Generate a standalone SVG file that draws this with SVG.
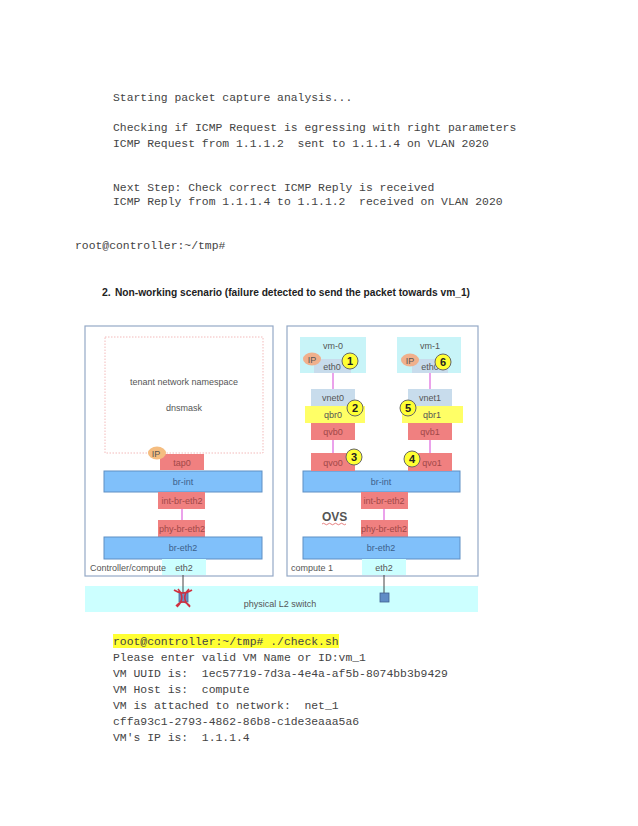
<svg xmlns="http://www.w3.org/2000/svg" width="638" height="826" viewBox="0 0 638 826">
<defs>
<style>
.term{font-family:"Liberation Mono","Courier New",monospace;font-size:11.4px;fill:#444;white-space:pre}
.head{font-family:"Liberation Sans",Arial,sans-serif;font-size:10.5px;font-weight:bold;fill:#222}
.lbl{font-family:"Liberation Sans",Arial,sans-serif;font-size:9px;fill:#555;text-anchor:middle}
.lbll{font-family:"Liberation Sans",Arial,sans-serif;font-size:9px;fill:#555}
.red{fill:#f08080}
.redt{font-family:"Liberation Sans",Arial,sans-serif;font-size:9px;fill:#a04848;text-anchor:middle}
.bridge{fill:#80c0fa;stroke:#5f8fc4;stroke-width:1}
.bt{font-family:"Liberation Sans",Arial,sans-serif;font-size:9px;fill:#3d5f8a;text-anchor:middle}
.host{fill:#fff;stroke:#94a9c6;stroke-width:1.2}
.vm{fill:#c8f4f8}
.nic{fill:#c8dcec}
.qbr{fill:#ffff66}
.num{fill:#ffff33;stroke:#666;stroke-width:1}
.numt{font-family:"Liberation Sans",Arial,sans-serif;font-size:11px;font-weight:bold;fill:#222;text-anchor:middle}
.pink{stroke:#e070e0;stroke-width:1.3;fill:none}
.wire{stroke:#444;stroke-width:1;fill:none}
.cyan{fill:#ccffff}
</style>
</defs>
<rect width="638" height="826" fill="#fff"/>

<g id="terminal-top">
<text class="term" x="113" y="101">Starting packet capture analysis...</text>
<text class="term" x="113" y="131">Checking if ICMP Request is egressing with right parameters</text>
<text class="term" x="113" y="147" xml:space="preserve">ICMP Request from 1.1.1.2  sent to 1.1.1.4 on VLAN 2020</text>
<text class="term" x="113" y="191">Next Step: Check correct ICMP Reply is received</text>
<text class="term" x="113" y="205" xml:space="preserve">ICMP Reply from 1.1.1.4 to 1.1.1.2  received on VLAN 2020</text>
<text class="term" x="75" y="249">root@controller:~/tmp#</text>
</g>

<g id="heading">
<text class="head" x="102" y="296">2.</text>
<text class="head" x="115" y="296" textLength="355" lengthAdjust="spacingAndGlyphs">Non-working scenario (failure detected to send the packet towards vm_1)</text>
</g>

<g id="switch">
<rect class="cyan" x="85" y="586" width="393" height="26"/>
<text class="lbl" x="280" y="607">physical L2 switch</text>
</g>

<g id="controller">
<rect class="host" x="85" y="326" width="188" height="250"/>
<rect x="105" y="337" width="158" height="116" fill="none" stroke="#f0a8a8" stroke-width="0.8" stroke-dasharray="1.5,1.5"/>
<text class="lbl" x="184" y="385">tenant network namespace</text>
<text class="lbl" x="184" y="411">dnsmask</text>
<rect class="red" x="160" y="454" width="44" height="16"/>
<text class="redt" x="182" y="466">tap0</text>
<ellipse cx="157" cy="453" rx="9" ry="6.5" fill="#f5bd80"/>
<text class="lbl" x="156" y="457">IP</text>
<rect class="bridge" x="104" y="471" width="158" height="21"/>
<text class="bt" x="183" y="485">br-int</text>
<rect class="red" x="158" y="492" width="47" height="17"/>
<text class="redt" x="182" y="504">int-br-eth2</text>
<rect class="red" x="158" y="520" width="47" height="17"/>
<text class="redt" x="182" y="532">phy-br-eth2</text>
<rect class="bridge" x="104" y="537" width="158" height="22"/>
<text class="bt" x="183" y="551">br-eth2</text>
<rect class="cyan" x="162" y="559" width="44" height="16"/>
<text class="lbl" x="184" y="571">eth2</text>
<text class="lbll" x="90" y="571">Controller/compute</text>
</g>

<g id="compute1">
<rect class="host" x="287" y="326" width="191" height="250"/>
<rect class="bridge" x="303" y="471" width="157" height="21"/>
<text class="bt" x="381" y="485">br-int</text>
<rect class="red" x="361" y="492" width="47" height="17"/>
<text class="redt" x="384" y="504">int-br-eth2</text>
<rect class="red" x="361" y="520" width="47" height="17"/>
<text class="redt" x="384" y="532">phy-br-eth2</text>
<rect class="bridge" x="303" y="537" width="157" height="22"/>
<text class="bt" x="381" y="551">br-eth2</text>
<text x="322" y="521" font-family="Liberation Sans,Arial,sans-serif" font-size="12" font-weight="bold" fill="#555">OVS</text>
<path d="M322 524 q1.5 -1.5 3 0 t3 0 t3 0 t3 0 t3 0 t3 0 t3 0 t3 0" stroke="#e06060" stroke-width="0.8" fill="none"/>
<rect class="cyan" x="362" y="559" width="44" height="16"/>
<text class="lbl" x="384" y="571">eth2</text>
<text class="lbll" x="291" y="571">compute 1</text>
</g>

<g id="vm-0">
<rect class="vm" x="300" y="337" width="66" height="36"/>
<text class="lbl" x="333" y="349">vm-0</text>
<rect class="nic" x="314" y="359" width="37" height="14"/>
<text class="lbl" x="332" y="370">eth0</text>
<ellipse cx="312" cy="359" rx="9" ry="6.5" fill="#f0b08c"/>
<text class="lbl" x="312" y="363">IP</text>
<circle class="num" cx="350" cy="361" r="8"/>
<text class="numt" x="350" y="365">1</text>
</g>

<g id="vnet0-qbr0">
<rect class="nic" x="311" y="389" width="44" height="17"/>
<text class="lbl" x="333" y="401">vnet0</text>
<rect class="qbr" x="305" y="406" width="60" height="17"/>
<text class="lbl" x="333" y="418">qbr0</text>
<circle class="num" cx="355" cy="408" r="8"/>
<text class="numt" x="355" y="412">2</text>
<rect class="red" x="311" y="423" width="44" height="17"/>
<text class="redt" x="333" y="435">qvb0</text>
</g>

<g id="qvo0">
<rect class="red" x="311" y="453" width="44" height="18"/>
<text class="redt" x="333" y="466">qvo0</text>
<circle class="num" cx="354" cy="457" r="8"/>
<text class="numt" x="354" y="461">3</text>
</g>

<g id="vm-1">
<rect class="vm" x="397" y="337" width="64" height="36"/>
<text class="lbl" x="430" y="349">vm-1</text>
<rect class="nic" x="412" y="359" width="36" height="14"/>
<text class="lbl" x="430" y="370">eth0</text>
<ellipse cx="410" cy="360" rx="9" ry="6.5" fill="#f0b08c"/>
<text class="lbl" x="410" y="364">IP</text>
<circle class="num" cx="443" cy="362" r="8"/>
<text class="numt" x="443" y="366">6</text>
</g>

<g id="vnet1-qbr1">
<rect class="nic" x="408" y="389" width="44" height="17"/>
<text class="lbl" x="430" y="401">vnet1</text>
<rect class="qbr" x="402" y="406" width="61" height="17"/>
<text class="lbl" x="432" y="418">qbr1</text>
<circle class="num" cx="408" cy="408" r="8"/>
<text class="numt" x="408" y="412">5</text>
<rect class="red" x="408" y="423" width="44" height="17"/>
<text class="redt" x="430" y="435">qvb1</text>
</g>

<g id="qvo1">
<rect class="red" x="408" y="453" width="44" height="18"/>
<text class="redt" x="432" y="466">qvo1</text>
<circle class="num" cx="412" cy="459" r="8"/>
<text class="numt" x="412" y="463">4</text>
</g>

<g id="connectors">
<line class="pink" x1="333" y1="373" x2="333" y2="389"/>
<line class="pink" x1="333" y1="440" x2="333" y2="453"/>
<line class="pink" x1="430" y1="373" x2="430" y2="389"/>
<line class="pink" x1="430" y1="440" x2="430" y2="453"/>
<line class="pink" x1="182" y1="509" x2="182" y2="520"/>
<line class="pink" x1="384" y1="509" x2="384" y2="520"/>
<line class="wire" x1="183" y1="575" x2="183" y2="593"/>
<line class="wire" x1="384" y1="575" x2="384" y2="593"/>
<rect x="179" y="593" width="9" height="9" fill="#6a8fc4" stroke="#4a6a9a" stroke-width="0.8"/>
<rect x="380" y="593" width="9" height="9" fill="#5f8cc6" stroke="#3f5f8f" stroke-width="0.8"/>
<path d="M174 590 Q183 596 192 590 M176 606 Q183 598 190 606 M178 589 Q186 598 177 607 M189 589 Q180 598 190 607" stroke="#d03040" stroke-width="1.6" fill="none"/>
</g>

<g id="terminal-bottom">
<rect x="113" y="634" width="226" height="14" fill="#ffff33"/>
<text class="term" x="113" y="645">root@controller:~/tmp# ./check.sh</text>
<text class="term" x="113" y="661">Please enter valid VM Name or ID:vm_1</text>
<text class="term" x="113" y="677" xml:space="preserve">VM UUID is:  1ec57719-7d3a-4e4a-af5b-8074bb3b9429</text>
<text class="term" x="113" y="693" xml:space="preserve">VM Host is:  compute</text>
<text class="term" x="113" y="709" xml:space="preserve">VM is attached to network:  net_1</text>
<text class="term" x="113" y="725">cffa93c1-2793-4862-86b8-c1de3eaaa5a6</text>
<text class="term" x="113" y="741" xml:space="preserve">VM's IP is:  1.1.1.4</text>
</g>
</svg>
